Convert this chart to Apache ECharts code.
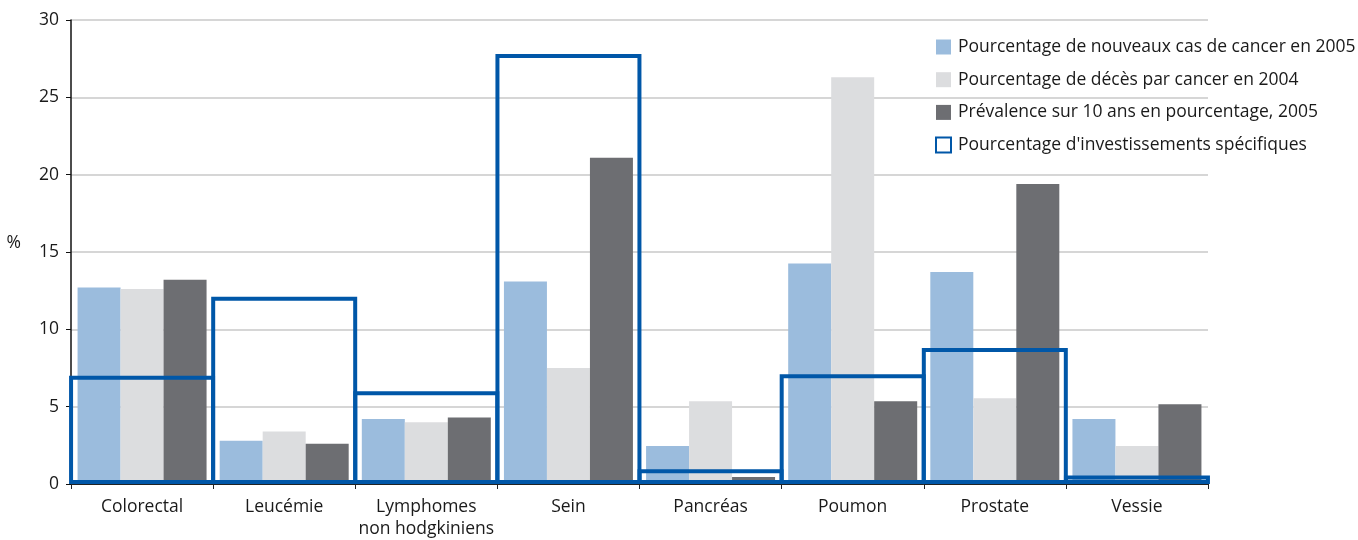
<!DOCTYPE html>
<html>
<head>
<meta charset="utf-8">
<script src="https://cdn.jsdelivr.net/npm/echarts@6/dist/echarts.min.js"></script>
<style>
  html, body { margin: 0; padding: 0; background: #fff; }
  #chart { width: 1358px; height: 540px; }
</style>
</head>
<body>
<div id="chart"></div>
<script>
// categories
var categories = ['Colorectal', 'Leucémie', 'Lymphomes\nnon hodgkiniens', 'Sein', 'Pancréas', 'Poumon', 'Prostate', 'Vessie'];
var seriesNames = [
    'Pourcentage de nouveaux cas de cancer en 2005',
    'Pourcentage de décès par cancer en 2004',
    'Prévalence sur 10 ans en pourcentage, 2005',
    "Pourcentage d'investissements spécifiques"
];
// valeurs (%)
var nouveauxCas = [12.7, 2.8, 4.2, 13.1, 2.45, 14.25, 13.7, 4.2];
var deces = [12.6, 3.4, 4.0, 7.5, 5.35, 26.3, 5.55, 2.45];
var prevalence = [13.2, 2.6, 4.3, 21.1, 0.45, 5.35, 19.4, 5.15];
var investissements = [7.0, 12.1, 6.0, 27.8, 0.95, 7.1, 8.8, 0.55];
var yTicks = [0, 5, 10, 15, 20, 25, 30];

var font = 'Open Sans';
var fs = 17.5;
var txt = '#1a1a1a';

var myChart = echarts.init(document.getElementById('chart'));

var option = {
    backgroundColor: '#fff',
    animation: false,
    textStyle: { fontFamily: font, color: txt },
    grid: { left: 71, right: 150, top: 20, bottom: 55 },
    legend: {
        orient: 'vertical',
        left: 930,
        top: 31,
        icon: 'rect',
        itemWidth: 15,
        itemHeight: 15,
        itemGap: 10.7,
        textStyle: { fontFamily: font, fontSize: fs, color: txt, padding: [0, 0, 0, 2], lineHeight: 22 },
        data: seriesNames
    },
    xAxis: [{
        type: 'category',
        data: categories,
        axisLine: { lineStyle: { color: '#222', width: 1 } },
        axisTick: { show: true, length: 5, lineStyle: { color: '#222' } },
        axisLabel: { interval: 0, fontFamily: font, fontSize: fs, color: txt, margin: 12, lineHeight: 22 }
    }, {
        type: 'category',
        data: categories,
        show: false
    }],
    yAxis: {
        type: 'value',
        min: yTicks[0],
        max: yTicks[yTicks.length - 1],
        interval: 5,
        name: '%',
        nameLocation: 'middle',
        nameRotate: 0,
        nameGap: 50,
        nameTextStyle: { fontFamily: font, fontSize: fs, color: txt, verticalAlign: 'bottom' },
        axisLine: { show: true, lineStyle: { color: '#111', width: 1.5 } },
        axisTick: { show: true, length: 5, lineStyle: { color: '#111' } },
        axisLabel: { fontFamily: font, fontSize: fs, color: txt, margin: 12 },
        splitLine: { lineStyle: { color: '#c8c8c8', width: 1.5 } }
    },
    series: [{
        name: seriesNames[0],
        type: 'bar',
        barWidth: 43,
        barGap: '0%',
        itemStyle: { color: '#9bbcdd' },
        data: nouveauxCas
    }, {
        name: seriesNames[1],
        type: 'bar',
        barWidth: 43,
        barGap: '0%',
        itemStyle: { color: '#dcdddf' },
        data: deces
    }, {
        name: seriesNames[2],
        type: 'bar',
        barWidth: 43,
        barGap: '0%',
        itemStyle: { color: '#6d6e72' },
        data: prevalence
    }, {
        name: seriesNames[3],
        type: 'bar',
        xAxisIndex: 1,
        barWidth: 146,
        z: 5,
        itemStyle: { color: 'rgba(255,255,255,0)', borderColor: '#0057a8', borderWidth: 4 },
        data: investissements
    }]
};
option && myChart.setOption(option);
</script>
</body>
</html>
